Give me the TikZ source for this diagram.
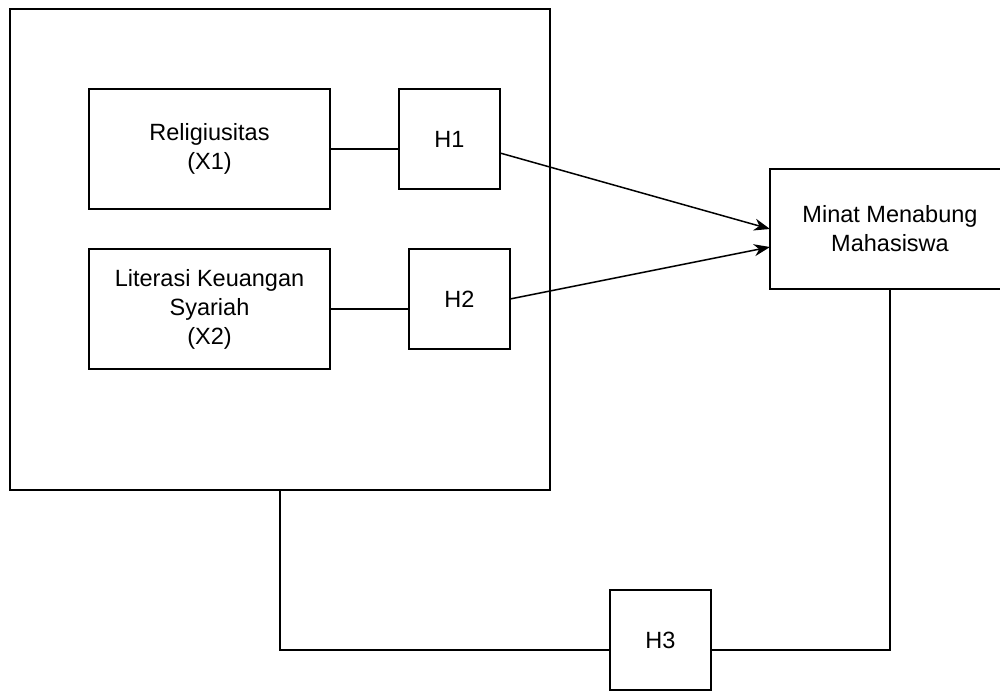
\documentclass[tikz,border=0pt]{standalone}
\usepackage{fontspec}
\setmainfont{Liberation Sans}
\usetikzlibrary{arrows.meta,calc}
\begin{document}
\begin{tikzpicture}[x=1pt,y=-1pt]
\tikzset{
  blk/.style={draw=black, line width=1.5pt, fill=white, inner sep=0pt, outer sep=0pt,
    align=center, font=\fontsize{23.5}{29}\selectfont, text=black},
  link/.style={draw=black, line width=1.5pt},
  arr/.style={link, -{Stealth[length=16pt,width=12pt,inset=5pt]}}
}
\useasboundingbox (0,0) rectangle (1000,690);
\fill[white] (0,0) rectangle (1000,690);
\node[blk, minimum width=540pt, minimum height=481pt] (frame) at (280,249.5) {};
\node[blk, minimum width=241pt, minimum height=120pt] (rel) at (209.5,149) {Religiusitas\\(X1)};
\node[blk, minimum width=101pt, minimum height=100pt] (h1) at (449.5,139) {H1};
\node[blk, minimum width=241pt, minimum height=120pt] (lit) at (209.5,309) {Literasi Keuangan\\Syariah\\(X2)};
\node[blk, minimum width=101pt, minimum height=100pt] (h2) at (459.5,299) {H2};
\node[blk, minimum width=240pt, minimum height=120pt] (minat) at (890,229) {Minat Menabung\\Mahasiswa};
\node[blk, minimum width=101pt, minimum height=100pt] (h3) at (660.5,640) {H3};
\draw[link] (rel.east) -- (rel.east -| h1.west);
\draw[link] (lit.east) -- (lit.east -| h2.west);
\draw[arr] ($(h1.east)+(0,14)$) -- (minat.west);
\draw[arr] (h2.east) -- ($(minat.west)+(0,18)$);
\draw[link] (frame.south) |- ($(h3.west)+(0,10)$);
\draw[link] ($(h3.east)+(0,10)$) -| (minat.south);
\end{tikzpicture}
\end{document}
